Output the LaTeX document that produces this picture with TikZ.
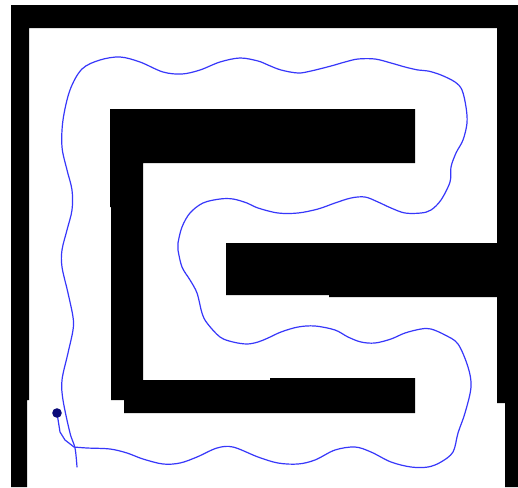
\documentclass[tikz,border=0pt]{standalone}
\definecolor{trailblue}{RGB}{55,55,250}
\definecolor{dotnavy}{RGB}{10,10,120}
\begin{document}
\begin{tikzpicture}[x=0.5pt,y=-0.5pt,
  wall/.style={fill=black,draw=none},
  trail/.style={draw=trailblue,line width=0.6pt,line join=round,line cap=round}]
\useasboundingbox (0,0) rectangle (518,487);
\fill[white] (0,0) rectangle (518,487);
% outer frame
\fill[wall] (11,5) -- (518,5) -- (518,487) -- (505,487) -- (505,403) -- (497,403) -- (497,28)
  -- (29,28) -- (29,400) -- (27,400) -- (27,487) -- (11,487) -- cycle;
% inner C shape
\fill[wall] (110,109) -- (415,109) -- (415,163) -- (143,163) -- (143,380) -- (270,380) -- (270,378)
  -- (415,378) -- (415,413) -- (124,413) -- (124,400) -- (111,400) -- (111,207) -- (110,207) -- cycle;
% middle bar
\fill[wall] (226,243) -- (497,243) -- (497,297) -- (329,297) -- (329,295) -- (226,295) -- cycle;
% trail
\coordinate (s) at (57,413);
\coordinate (j) at (74,447);
\draw[trail] (s) -- (60,432) -- (65,440) -- (j);
\draw[trail] plot[smooth,tension=0.55] coordinates {
(74,447) (87,448) (110,449) (127,453) (143,459) (163,464) (180,463) (197,457) (217,448) (233,447)
(258,457) (278,463) (298,464) (315,460) (335,450) (355,447) (371,452) (391,462) (411,467) (428,467)
(441,462) (453,452) (458,433) (465,413) (471,387) (468,367) (458,344) (445,335) (431,329) (421,329)
(405,333) (391,339) (375,343) (361,342) (348,337) (335,330) (315,326) (298,327) (281,332) (268,338)
(258,342) (247,344) (233,342) (220,337) (207,323) (202,313) (197,293) (190,280) (182,267) (178,250)
(178,243) (182,227) (190,213) (203,203) (220,199) (233,199) (247,203) (258,208) (278,213) (298,213)
(318,209) (335,203) (351,198) (365,197) (378,202) (391,208) (405,213) (421,213) (431,210) (441,200)
(450,182) (451,167) (456,153) (463,140) (467,123) (466,107) (462,90) (455,82) (441,75) (428,71)
(418,70) (405,67) (391,63) (375,59) (358,59) (345,62) (331,66) (311,71) (298,73) (281,70)
(268,65) (258,61) (240,58) (220,62) (200,70) (182,74) (163,72) (140,62) (120,57) (100,60)
(82,69) (70,90) (63,120) (62,147) (67,170) (72,190) (72,210) (67,230) (62,250) (62,267)
(68,293) (73,317) (73,330) (68,353) (62,380) (63,400) (70,433) (75,448) (77,467)};
\fill[dotnavy] (s) circle[radius=2.4pt];
\end{tikzpicture}
\end{document}
